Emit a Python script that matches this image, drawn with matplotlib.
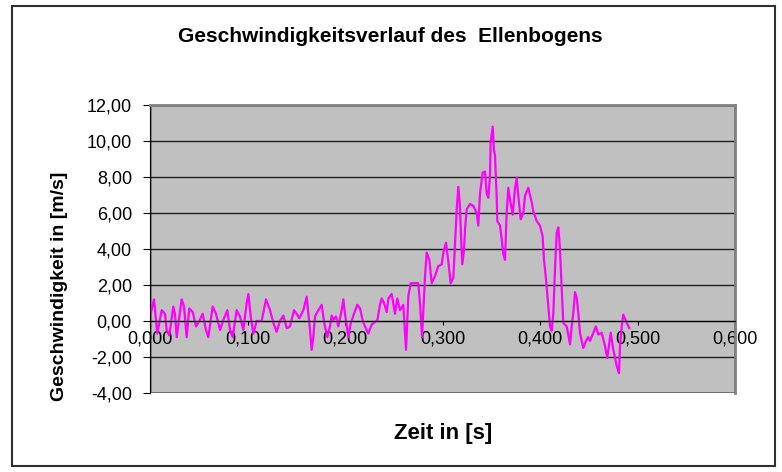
import numpy as np
import matplotlib
matplotlib.use("Agg")
import matplotlib.pyplot as plt
from matplotlib.patches import Rectangle
from matplotlib.ticker import FuncFormatter, MultipleLocator

plt.rcParams['font.family'] = ['Liberation Sans', 'DejaVu Sans']

# Zeit in [s]
zeit = [0.0000, 0.0041, 0.0075, 0.0120, 0.0154, 0.0171, 0.0198, 0.0239, 0.0256, 0.0274,
        0.0325, 0.0349, 0.0376, 0.0403, 0.0438, 0.0472, 0.0506, 0.0540, 0.0574, 0.0598,
        0.0643, 0.0677, 0.0718, 0.0752, 0.0793, 0.0821, 0.0848, 0.0889, 0.0923, 0.0957,
        0.0992, 0.1009, 0.1033, 0.1060, 0.1094, 0.1145, 0.1190, 0.1231, 0.1265, 0.1299,
        0.1333, 0.1368, 0.1402, 0.1436, 0.1477, 0.1504, 0.1532, 0.1573, 0.1607, 0.1641,
        0.1658, 0.1675, 0.1692, 0.1716, 0.1761, 0.1785, 0.1819, 0.1846, 0.1863, 0.1880,
        0.1908, 0.1931, 0.1966, 0.1983, 0.2000, 0.2034, 0.2058, 0.2092, 0.2126, 0.2154,
        0.2181, 0.2205, 0.2239, 0.2274, 0.2308, 0.2332, 0.2359, 0.2376, 0.2400, 0.2428,
        0.2445, 0.2479, 0.2513, 0.2536, 0.2564, 0.2598, 0.2626, 0.2650, 0.2674, 0.2752,
        0.2769, 0.2790, 0.2821, 0.2838, 0.2865, 0.2889, 0.2923, 0.2957, 0.2992, 0.3009,
        0.3036, 0.3060, 0.3084, 0.3111, 0.3128, 0.3146, 0.3162, 0.3179, 0.3190, 0.3203,
        0.3221, 0.3231, 0.3248, 0.3282, 0.3316, 0.3351, 0.3367, 0.3385, 0.3412, 0.3436,
        0.3453, 0.3470, 0.3487, 0.3494, 0.3515, 0.3528, 0.3538, 0.3556, 0.3562, 0.3590,
        0.3607, 0.3624, 0.3641, 0.3658, 0.3675, 0.3692, 0.3720, 0.3744, 0.3761, 0.3778,
        0.3802, 0.3829, 0.3846, 0.3880, 0.3915, 0.3931, 0.3966, 0.4000, 0.4027, 0.4041,
        0.4062, 0.4085, 0.4103, 0.4120, 0.4137, 0.4154, 0.4171, 0.4188, 0.4205, 0.4223,
        0.4239, 0.4274, 0.4308, 0.4325, 0.4342, 0.4359, 0.4376, 0.4393, 0.4410, 0.4444,
        0.4472, 0.4495, 0.4513, 0.4547, 0.4574, 0.4598, 0.4633, 0.4667, 0.4690, 0.4725,
        0.4752, 0.4787, 0.4810, 0.4821, 0.4838, 0.4854, 0.4882, 0.4916]

# Geschwindigkeit in [m/s]
geschw = [0.24, 1.2, -0.7, 0.6, 0.4, -0.5, -0.8, 0.8, 0.4, -0.9,
          1.2, 0.8, -0.9, 0.7, 0.5, -0.3, 0.0, 0.4, -0.5, -0.9,
          0.8, 0.4, -0.5, 0.05, 0.6, -0.5, -0.9, 0.6, 0.25, -0.5,
          1.0, 1.5, 0.25, -0.7, 0.0, 0.0, 1.2, 0.6, -0.1, -0.6,
          0.0, 0.3, -0.4, -0.3, 0.6, 0.4, 0.15, 0.6, 1.35, -0.5,
          -1.6, -0.9, 0.25, 0.5, 0.9, -0.05, -0.9, -0.3, 0.3, 0.05,
          0.25, -0.3, 0.6, 1.2, 0.4, -0.9, -0.15, 0.4, 0.9, 0.7,
          0.05, -0.3, -0.7, -0.2, -0.05, 0.05, 0.9, 1.25, 1.0, 0.5,
          1.25, 1.5, 0.4, 1.25, 0.6, 0.9, -1.6, 1.4, 2.1, 2.1,
          1.0, -0.9, 2.5, 3.8, 3.4, 2.1, 2.5, 3.05, 3.15, 3.8,
          4.35, 3.3, 2.1, 2.4, 4.2, 6.2, 7.45, 6.4, 4.7, 3.15,
          4.0, 5.1, 6.2, 6.5, 6.4, 6.0, 5.3, 7.1, 8.25, 8.3,
          7.1, 6.85, 8.05, 9.9, 10.8, 9.5, 9.2, 6.9, 5.55, 5.3,
          4.55, 3.7, 3.4, 6.0, 7.4, 6.75, 5.9, 7.4, 7.95, 6.95,
          5.65, 6.0, 6.95, 7.4, 6.6, 6.1, 5.55, 5.3, 4.7, 3.4,
          2.3, 0.8, -0.3, -0.55, 0.45, 2.9, 4.9, 5.2, 4.0, 1.75,
          -0.1, -0.3, -1.3, -0.3, 0.45, 1.6, 1.3, 0.45, -0.65, -1.5,
          -1.1, -0.9, -1.1, -0.65, -0.3, -0.75, -0.65, -1.4, -2.05, -0.65,
          -1.6, -2.5, -2.9, -1.4, -0.3, 0.35, 0.0, -0.4]

fig = plt.figure(figsize=(7.82, 4.72), dpi=100)
ax = fig.add_axes([150/782, 1-393/472, 585/782, 288/472])

# aeusserer Rahmen
fig.patches.append(Rectangle((12/782, 6/472), 763/782, 460/472, transform=fig.transFigure,
                             fill=False, edgecolor='#303030', linewidth=1.5))

ax.set_facecolor('#C0C0C0')
ax.plot(zeit, geschw, color='#FF00FF', linewidth=1.6)

ax.set_xlim(0, 0.6)
ax.set_ylim(-4, 12)
ax.xaxis.set_major_locator(MultipleLocator(0.1))
ax.yaxis.set_major_locator(MultipleLocator(2))
ax.xaxis.set_major_formatter(FuncFormatter(lambda v, p: f"{v:.3f}".replace('.', ',')))
ax.yaxis.set_major_formatter(FuncFormatter(lambda v, p: f"{v:.2f}".replace('.', ',')))

ax.yaxis.grid(True, color='#202020', linewidth=1)
ax.set_axisbelow(True)

ax.spines['bottom'].set_position(('data', 0))
ax.spines['bottom'].set_color('black')
ax.spines['left'].set_color('black')
ax.spines['top'].set_color('#808080')
ax.spines['right'].set_color('#808080')
ax.spines['top'].set_linewidth(2)
ax.spines['right'].set_linewidth(2)
ax.add_patch(Rectangle((0, 0), 1, 1, transform=ax.transAxes, fill=False,
                       edgecolor='#808080', linewidth=2, zorder=0.5))

ax.tick_params(axis='both', direction='out', length=5, color='black', labelsize=13)
ax.tick_params(axis='y', pad=8)
ax.tick_params(axis='x', length=3, pad=4)

fig.text(390/782, 1-37/472, "Geschwindigkeitsverlauf des  Ellenbogens", ha='center', va='center',
         fontsize=15, fontweight='bold')
fig.text(443/782, 1-433/472, "Zeit in [s]", ha='center', va='center', fontsize=16, fontweight='bold')
fig.text(60/782, 1-286/472, "Geschwindigkeit in [m/s]", ha='center', va='center', rotation=90,
         fontsize=14, fontweight='bold')

fig.savefig("out.png", dpi=100)
